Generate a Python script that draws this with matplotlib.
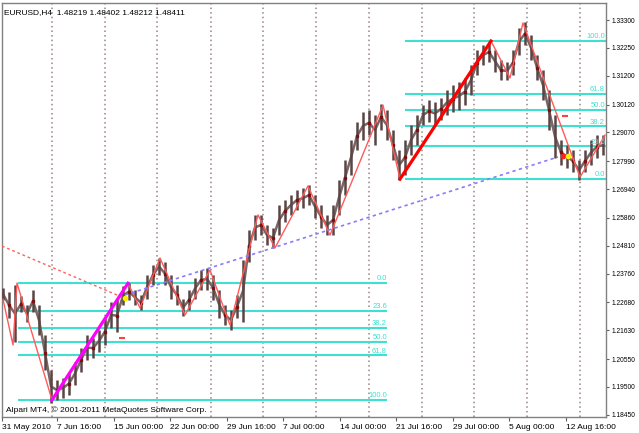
import matplotlib
matplotlib.use("Agg")
from matplotlib import pyplot as plt

plt.rcParams['font.family'] = ['Liberation Sans', 'DejaVu Sans']

# EURUSD H4, sampled every 3rd bar (bar index, high, low)
bar_idx = list(range(0, 301, 3))
bar_hi = [1.2322, 1.2307, 1.2333, 1.2292, 1.2258, 1.2315, 1.2258, 1.2145, 1.2014, 1.1976,
          1.1984, 1.2006, 1.2044, 1.2097, 1.2145, 1.2134, 1.2164, 1.2209, 1.2269, 1.2280,
          1.2330, 1.2341, 1.2315, 1.2296, 1.2371, 1.2409, 1.2435, 1.2420, 1.2371, 1.2333,
          1.2280, 1.2315, 1.2360, 1.2390, 1.2397, 1.2371, 1.2315, 1.2258, 1.2239, 1.2296,
          1.2427, 1.2540, 1.2597, 1.2597, 1.2559, 1.2548, 1.2634, 1.2653, 1.2672, 1.2691,
          1.2698, 1.2709, 1.2672, 1.2634, 1.2597, 1.2634, 1.2728, 1.2803, 1.2879, 1.2946,
          1.2984, 1.2991, 1.2973, 1.3014, 1.2991, 1.2916, 1.2841, 1.2879, 1.2935, 1.2973,
          1.3010, 1.3029, 1.3022, 1.3037, 1.3067, 1.3085, 1.3097, 1.3112, 1.3161, 1.3217,
          1.3236, 1.3247, 1.3217, 1.3179, 1.3172, 1.3217, 1.3300, 1.3322, 1.3273, 1.3198,
          1.3142, 1.3067, 1.2973, 1.2879, 1.2860, 1.2841, 1.2803, 1.2841, 1.2879, 1.2897,
          1.2897]
bar_lo = [1.2277, 1.2209, 1.2119, 1.2232, 1.2194, 1.2232, 1.2145, 1.2014, 1.1890, 1.1901,
          1.1909, 1.1920, 1.1957, 1.2006, 1.2051, 1.2059, 1.2082, 1.2108, 1.2172, 1.2157,
          1.2258, 1.2277, 1.2258, 1.2239, 1.2280, 1.2333, 1.2371, 1.2333, 1.2280, 1.2258,
          1.2217, 1.2239, 1.2280, 1.2315, 1.2315, 1.2277, 1.2209, 1.2183, 1.2164, 1.2209,
          1.2194, 1.2420, 1.2503, 1.2521, 1.2484, 1.2473, 1.2521, 1.2570, 1.2597, 1.2615,
          1.2623, 1.2634, 1.2585, 1.2548, 1.2521, 1.2521, 1.2597, 1.2672, 1.2747, 1.2841,
          1.2879, 1.2897, 1.2860, 1.2916, 1.2879, 1.2803, 1.2728, 1.2747, 1.2822, 1.2860,
          1.2935, 1.2946, 1.2935, 1.2954, 1.2973, 1.2984, 1.2991, 1.3010, 1.3048, 1.3123,
          1.3161, 1.3172, 1.3134, 1.3104, 1.3104, 1.3123, 1.3198, 1.3236, 1.3179, 1.3104,
          1.3029, 1.2916, 1.2811, 1.2785, 1.2773, 1.2758, 1.2728, 1.2758, 1.2785, 1.2811,
          1.2822]

# zigzag pivots
zz_idx = [0, 5, 7, 24.5, 62.5, 68.5, 78.5, 91, 103.5, 113.5, 127.5, 136, 152.5,
          163.5, 190, 198.5, 244, 253.5, 260, 288.5, 301]
zz_price = [1.2280, 1.2108, 1.2341, 1.1901, 1.2340, 1.2247, 1.2435, 1.2221, 1.2390,
            1.2183, 1.2597, 1.2473, 1.2706, 1.2521, 1.3010, 1.2732, 1.3251, 1.3112,
            1.3319, 1.2739, 1.2897]

fib_ratios = [0.0, 23.6, 38.2, 50.0, 61.8, 100.0]
fib_left = (1.2340, 1.1901)    # 0 level, 100 level
fib_right = (1.2732, 1.3251)

y_ticks = [1.33300, 1.32250, 1.31200, 1.30120, 1.29070, 1.27990, 1.26940, 1.25860,
           1.24810, 1.23760, 1.22680, 1.21630, 1.20550, 1.19500, 1.18450]
x_ticks = [-0.5, 27, 55.5, 83.5, 112, 140, 168.5, 196.5, 225, 253, 281.5]
x_labels = ["31 May 2010", "7 Jun 16:00", "15 Jun 00:00", "22 Jun 00:00", "29 Jun 16:00",
            "7 Jul 00:00", "14 Jul 00:00", "21 Jul 16:00", "29 Jul 00:00", "5 Aug 00:00",
            "12 Aug 16:00"]
grid_idx = [24.5, 51, 77, 104, 130, 156.5, 183, 209.5, 235.5, 262, 288.5]

ymin, ymax = 1.18371, 1.3394

fig = plt.figure(figsize=(6.39, 4.33), dpi=100)
ax = fig.add_axes([2 / 639, 16 / 433, 604 / 639, 414 / 433])
ax.set_xlim(-0.5, 301.5)
ax.set_ylim(ymin, ymax)

ax.vlines(grid_idx, ymin, ymax, colors='#9a8484', linestyles=(0, (1, 2)), lw=1.1, zorder=1)

turq = '#40e0d0'
for r in fib_ratios:
    lv = fib_left[0] + (fib_left[1] - fib_left[0]) * r / 100
    ax.hlines(lv, 7.5, 192, colors=turq, lw=1.5, zorder=2)
    ax.text(192, lv + 0.0003, "%.1f" % r, color=turq, fontsize=5.5, ha='right', va='bottom', zorder=6)
    lv = fib_right[0] + (fib_right[1] - fib_right[0]) * r / 100
    ax.hlines(lv, 201, 302, colors=turq, lw=1.5, zorder=2)
    ax.text(301, lv + 0.0003, "%.1f" % r, color=turq, fontsize=5.5, ha='right', va='bottom', zorder=6)

# price bars
mids = [(h + l) / 2 for h, l in zip(bar_hi, bar_lo)]
ax.plot(bar_idx, mids, color='#7a6666', lw=1.8, zorder=3)
ax.vlines(bar_idx, bar_lo, bar_hi, colors='#5a4444', lw=1.8, zorder=3)
ax.plot(bar_idx[1::2], mids[1::2], ls='none', marker='s', ms=1.6, color='#7a1010', zorder=3)

# zigzag + trend lines
ax.plot(zz_idx, zz_price, color='#ff5a5a', lw=1.0, zorder=4)
ax.plot([-0.5, 59.5], [1.2480, 1.2288], color='#ff6060', lw=1.0, ls=(0, (2, 2)), zorder=4)
ax.plot([61, 277.5], [1.2296, 1.2815], color='#8a7cff', lw=1.2, ls=(0, (2, 2)), zorder=4)
ax.plot([24.5, 62.5], [1.1901, 1.2340], color='#ff00ff', lw=2.3, zorder=5)
ax.plot([198.5, 244], [1.2732, 1.3251], color='#ff0000', lw=2.3, zorder=5)

# small markers
ax.plot([59.5], [1.2134], marker='_', color='#ff4040', ms=5, mew=1.5, zorder=6)
ax.plot([281], [1.2969], marker='_', color='#ff4040', ms=5, mew=1.5, zorder=6)
ax.plot([61], [1.2285], 'o', color='#ffee00', ms=3, zorder=6)
ax.plot([280], [1.2818], 'o', color='#ff2020', ms=3, zorder=6)
ax.plot([282.5], [1.2818], 'o', color='#ffee00', ms=3, zorder=6)

for s in ax.spines.values():
    s.set_color('#808080')
    s.set_linewidth(1)

ax.yaxis.tick_right()
ax.set_yticks(y_ticks)
ax.set_yticklabels(["%.5f" % v for v in y_ticks])
ax.set_xticks(x_ticks)
ax.set_xticklabels(x_labels, ha='left')
ax.tick_params(axis='both', labelsize=6, length=3, width=0.8, color='#606060', pad=2)
ax.tick_params(axis='y', labelsize=4.8, length=2, pad=2)

ax.text(0.004, 0.985, "EURUSD,H4  1.48219 1.48402 1.48212 1.48411", transform=ax.transAxes,
        fontsize=6, ha='left', va='top')
ax.text(0.006, 0.008, "Alpari MT4, \u00a9 2001-2011 MetaQuotes Software Corp.", transform=ax.transAxes,
        fontsize=6, ha='left', va='bottom', zorder=7)

fig.savefig("out.png", dpi=100)
